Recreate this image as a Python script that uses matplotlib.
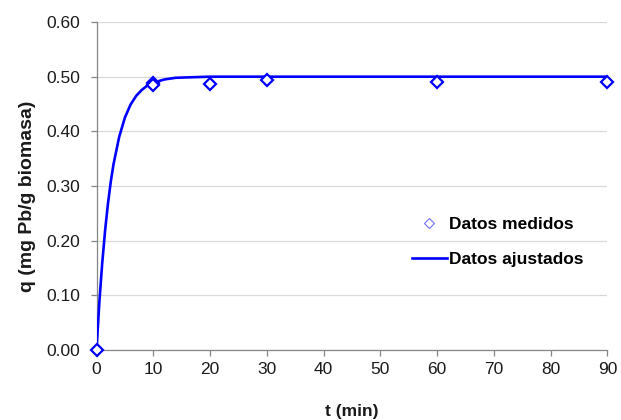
import numpy as np
import matplotlib.pyplot as plt
from matplotlib.lines import Line2D

plt.rcParams['font.family'] = ['Liberation Sans', 'DejaVu Sans']

# measured points
t_med = [0, 10, 10, 20, 30, 60, 90]
q_med = [0.000, 0.489, 0.484, 0.487, 0.494, 0.491, 0.491]

# fitted curve
t_aj = [0, 0.5, 1, 1.5, 2, 2.5, 3, 4, 5, 6, 7, 8, 9, 10, 12, 14, 17, 20, 25, 30, 60, 90]
q_aj = [0.000, 0.087, 0.158, 0.217, 0.266, 0.307, 0.340, 0.390, 0.425, 0.449, 0.465,
        0.476, 0.484, 0.489, 0.495, 0.498, 0.499, 0.500, 0.500, 0.500, 0.500, 0.500]

x_ticks = [0, 10, 20, 30, 40, 50, 60, 70, 80, 90]
y_ticks = [0.0, 0.1, 0.2, 0.3, 0.4, 0.5, 0.6]

fig = plt.figure(figsize=(6.21, 4.2), dpi=100)
ax = fig.add_axes([0.1554, 0.1667, 0.8226, 0.7809])

grey = '#868686'
ax.plot(t_aj, q_aj, color='#0000ff', lw=1.9, zorder=3)
ax.plot(t_med, q_med, ls='none', marker='D', ms=6, mfc='white', mec='#0000ff',
        mew=1.6, zorder=4, clip_on=False)

ax.set_xlim(0, 90)
ax.set_ylim(0, 0.6)
ax.set_xticks(x_ticks)
ax.set_yticks(y_ticks)
ax.set_yticklabels(['%.2f' % v for v in y_ticks])
ax.grid(axis='y', color='#d9d9d9', lw=0.9)
ax.set_axisbelow(True)
for s in ['top', 'right']:
    ax.spines[s].set_visible(False)
for s in ['left', 'bottom']:
    ax.spines[s].set_color(grey)
    ax.spines[s].set_linewidth(0.9)
ax.tick_params(colors=grey, labelcolor='#1a1a1a', labelsize=12.5, length=4, width=0.9)
ax.tick_params(axis='y', pad=8)
ax.tick_params(axis='x', pad=5)

ax.set_xlabel('t (min)', fontsize=12.5, fontweight='bold', color='#1a1a1a', labelpad=19)
ax.set_ylabel('q (mg Pb/g biomasa)', fontsize=14, fontweight='bold', color='#1a1a1a')
ax.yaxis.set_label_coords(-0.119, 0.47)

handles = [Line2D([], [], ls='none', marker='D', ms=5, mfc='white', mec='#7070ff', mew=0.8),
           Line2D([], [], color='#0000ff', lw=1.9)]
fig.legend(handles, ['Datos medidos', 'Datos ajustados'], loc='upper left',
           bbox_to_anchor=(412 / 621, 1 - 217 / 420), frameon=False,
           borderpad=0, borderaxespad=0, handlelength=2.0, handletextpad=0.15,
           labelspacing=1.15, prop={'size': 12.5, 'weight': 'bold'})

fig.savefig('out.png', dpi=100)
